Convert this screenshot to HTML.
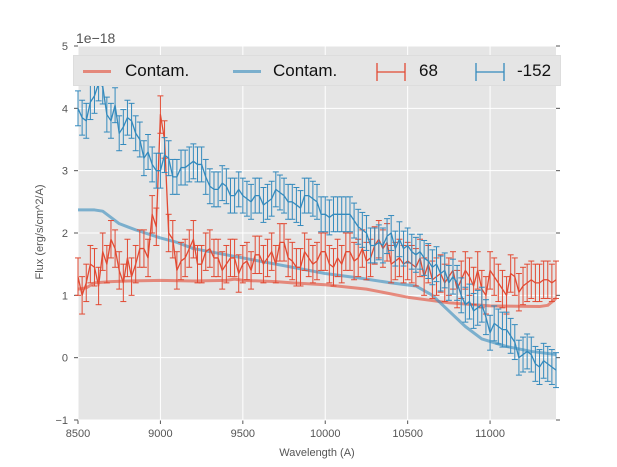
<!DOCTYPE html>
<html><head><meta charset="utf-8"><style>
body{margin:0;background:#fff;}
svg{display:block;font-family:"Liberation Sans","DejaVu Sans",sans-serif;}
</style></head><body>
<svg id="chart" width="617" height="467"></svg>
<script>
const waveStart = 8500, waveStep = 25;
const fluxRed = [1.3,1.0,1.2,1.5,1.45,1.15,1.7,1.5,1.9,1.75,
1.4,1.2,1.6,1.3,1.5,1.75,1.75,1.6,2.3,2.1,
3.9,3.5,2.0,1.9,1.4,1.55,1.6,1.75,1.9,1.5,
1.5,1.7,1.75,1.6,1.6,1.4,1.5,1.6,1.6,1.35,
1.5,1.55,1.4,1.65,1.65,1.5,1.6,1.7,1.5,1.85,
1.85,1.6,1.55,1.45,1.45,1.7,1.6,1.5,1.55,1.7,
1.7,1.5,1.45,1.6,1.5,1.7,1.7,1.55,1.6,1.75,
1.55,1.6,1.8,1.9,1.75,1.85,1.5,1.55,1.6,1.5,
1.55,1.5,1.45,1.6,1.3,1.5,1.25,1.3,1.35,1.2,
1.3,1.4,1.1,1.25,1.4,1.3,1.15,1.4,1.1,1.0,
1.4,1.3,1.2,1.1,1.0,1.35,1.3,1.05,1.15,1.2,
1.25,1.2,1.2,1.25,1.25,1.2,1.25];
const errRed = 0.3;
const fluxBlue = [4.0,3.85,3.8,4.1,4.2,4.4,4.35,3.9,3.8,4.05,
3.6,3.7,3.85,3.8,3.6,3.5,3.2,3.3,3.1,3.0,
3.0,3.25,3.2,2.9,2.9,3.05,3.05,3.1,3.15,3.1,
3.1,2.9,2.75,2.7,2.7,2.8,2.75,2.6,2.6,2.7,
2.6,2.55,2.5,2.6,2.6,2.45,2.5,2.55,2.7,2.65,
2.6,2.5,2.5,2.45,2.4,2.6,2.6,2.55,2.5,2.3,
2.3,2.25,2.3,2.3,2.3,2.3,2.3,2.2,2.1,2.05,
2.0,1.8,1.8,1.85,1.8,1.95,2.0,1.75,1.9,1.75,
1.8,1.7,1.65,1.7,1.6,1.55,1.45,1.5,1.35,1.4,
1.2,1.3,1.2,1.0,0.85,0.9,0.75,0.8,0.85,0.65,
0.4,0.55,0.5,0.45,0.45,0.35,0.25,0.0,0.05,0.1,
0.05,-0.1,-0.15,-0.05,-0.1,-0.15,-0.2];
const errBlue = 0.28;
const contWave = [8500,8550,8600,8700,8800,9000,9200,9400,9450,9500,9700,9800,10000,10250,10500,10750,11000,11300,11350,11400];
const contRed = [1.1,1.12,1.2,1.22,1.23,1.24,1.23,1.24,1.26,1.24,1.22,1.2,1.17,1.1,0.97,0.88,0.83,0.82,0.84,0.95];
const contWaveB = [8500,8600,8650,8700,8750,8850,9000,9100,9200,9400,9600,9800,10000,10200,10400,10550,10650,10750,10850,10950,11100,11250,11400];
const contBlue = [2.37,2.37,2.35,2.25,2.15,2.05,1.92,1.85,1.75,1.65,1.55,1.45,1.35,1.28,1.2,1.15,1.0,0.75,0.5,0.3,0.18,0.1,0.05];
const xTicks = [8500,9000,9500,10000,10500,11000];
const yTicks = [-1,0,1,2,3,4,5];

const L=78,R=556,T=46,B=420;
const sx = w => L + (w-8500)/(11400-8500)*(R-L);
const sy = v => B - (v+1)/6*(B-T);
const NS='http://www.w3.org/2000/svg';
const svg=document.getElementById('chart');
function mk(t,a,p){const e=document.createElementNS(NS,t);for(const k in a)e.setAttribute(k,a[k]);(p||svg).appendChild(e);return e;}

const bg=mk('rect',{x:L,y:T,width:R-L,height:B-T,fill:'#e5e5e5'});


xTicks.forEach(t=>{
  const g=mk('line',{x1:sx(t),x2:sx(t),y1:T,y2:B,stroke:'#fff','stroke-width':1});
  
  
  mk('line',{x1:sx(t),x2:sx(t),y1:B,y2:B+4,stroke:'#555'});
  const tx=mk('text',{x:sx(t),y:B+17,'font-size':11,fill:'#555','text-anchor':'middle'});
  tx.textContent=t;
  
  
});
yTicks.forEach(t=>{
  const g=mk('line',{x1:L,x2:R,y1:sy(t),y2:sy(t),stroke:'#fff','stroke-width':1});
  
  
  mk('line',{x1:L-4,x2:L,y1:sy(t),y2:sy(t),stroke:'#555'});
  mk('line',{x1:R,x2:R+4,y1:sy(t),y2:sy(t),stroke:'#555'});
  const tx=mk('text',{x:L-10,y:sy(t)+4,'font-size':11,fill:'#555','text-anchor':'end'});
  tx.textContent=t<0?'\u22121':t;
  
  
});
function line(xs,ys,col,w,op,name){
  const p=mk('polyline',{points:xs.map((x,i)=>sx(x)+','+sy(ys[i])).join(' '),fill:'none',stroke:col,'stroke-width':w,opacity:op,'stroke-linejoin':'round'});
  
  
}
line(contWave,contRed,'#e24a33',3,0.6,'contam-red-line');
line(contWaveB,contBlue,'#348abd',3,0.6,'contam-blue-line');
function errs(ys,err,col,name){
  const wave = ys.map((v,i)=>waveStart+i*waveStep);
  const g=mk('g',{stroke:col,'stroke-width':1});
  
  
  wave.forEach((w,i)=>{
    const x=sx(w),y1=sy(ys[i]-err),y2=sy(ys[i]+err);
    mk('line',{x1:x,x2:x,y1:y1,y2:y2},g);
    mk('line',{x1:x-3,x2:x+3,y1:y1,y2:y1},g);
    mk('line',{x1:x-3,x2:x+3,y1:y2,y2:y2},g);
  });
  line(wave,ys,col,1.3,1,name+'-line');
}
errs(fluxRed,errRed,'#e24a33','series-68');
errs(fluxBlue,errBlue,'#348abd','series-minus152');
</script>
<div style="position:absolute;left:73px;top:55px;width:488px;height:31px;background:#e5e5e5;border:1px solid #ddd;box-sizing:border-box;font-family:'Liberation Sans',sans-serif;font-size:17px;color:#111;">
  <div style="position:absolute;left:9px;top:14px;width:28px;height:3px;background:#e24a33;opacity:.6"></div>
  <div style="position:absolute;left:51px;top:5px;">Contam.</div>
  <div style="position:absolute;left:159px;top:14px;width:28px;height:3px;background:#348abd;opacity:.6"></div>
  <div style="position:absolute;left:199px;top:5px;">Contam.</div>
  <svg style="position:absolute;left:302px;top:6px" width="30" height="20"><g stroke="#e24a33" stroke-width="1.3"><line x1="1" x2="29" y1="10" y2="10"/><line x1="1" x2="1" y1="1" y2="19"/><line x1="29" x2="29" y1="1" y2="19"/></g></svg>
  <div style="position:absolute;left:345px;top:5px;">68</div>
  <svg style="position:absolute;left:401px;top:6px" width="30" height="20"><g stroke="#348abd" stroke-width="1.3"><line x1="1" x2="29" y1="10" y2="10"/><line x1="1" x2="1" y1="1" y2="19"/><line x1="29" x2="29" y1="1" y2="19"/></g></svg>
  <div style="position:absolute;left:443px;top:5px;">-152</div>
</div>
<div style="position:absolute;left:76px;top:30px;font-family:'Liberation Sans',sans-serif;font-size:14px;color:#555;">1e&#8722;18</div>
<div style="position:absolute;left:0;width:634px;text-align:center;top:447px;font-family:'Liberation Sans',sans-serif;font-size:11px;color:#555;">Wavelength (A)</div>
<div style="position:absolute;left:-40px;top:226px;width:160px;text-align:center;transform:rotate(-90deg);font-family:'Liberation Sans',sans-serif;font-size:11px;color:#555;">Flux (erg/s/cm^2/A)</div>
</body></html>
